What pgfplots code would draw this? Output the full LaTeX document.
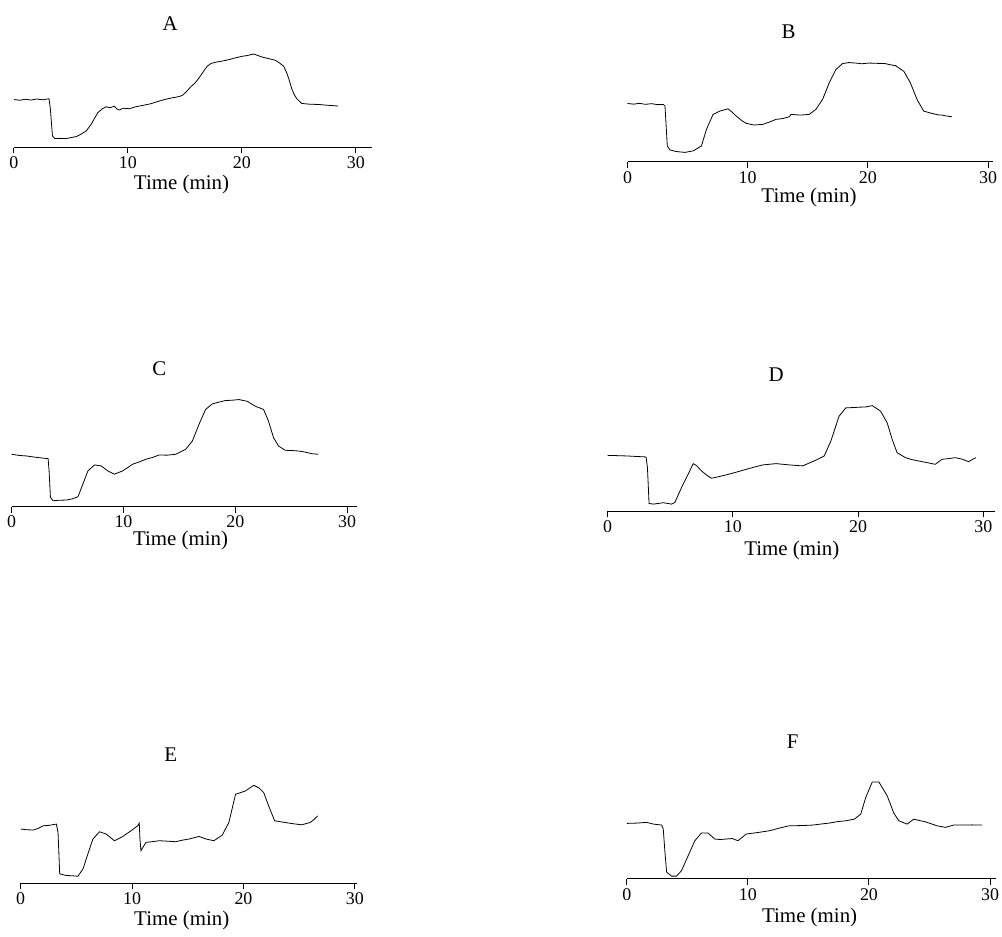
\documentclass[border=0pt]{standalone}
\usepackage{fontspec}
\setmainfont{Liberation Serif}
\usepackage{pgfplots}
\pgfplotsset{compat=1.18}
\pgfplotsset{
  panel/.style={
    axis x line=bottom, axis y line=none,
    x axis line style={-, line width=0.5pt},
    xmin=0, ymin=0, ymax=110,
    xtick={0,10,20,30},
    tick align=outside, major tick length=3pt,
    tick style={black, line width=0.5pt},
    y=0.5pt, clip=false, anchor=origin,
    /pgf/number format/assume math mode=true,
    ticklabel style={font=\fontsize{9}{10}\selectfont, inner sep=1.5pt},
    cycle list={{black, line width=0.75pt, mark=none, line join=round}},
  }
}
\newcommand{\ttl}[3]{\node[font=\fontsize{10.5}{12}\selectfont] at (axis cs:#1,#2) {#3};}
\newcommand{\lbl}[2]{\node[font=\fontsize{10.5}{12}\selectfont] at (axis cs:#1,#2-2) {Time (min)};}
\begin{document}
\begin{tikzpicture}
\path (0,0) rectangle (501pt,468pt);
% A
\begin{axis}[panel, at={(7pt,393.85pt)}, x=5.728pt, xmax=31.4]
\addplot coordinates {(0,48.3)(0.5,47.5)(1.0,48.5)(1.5,47.7)(2.0,48.8)(2.5,48.0)(3.08,49)(3.2,38.3)(3.38,11.7)(3.58,9)(4.1,9.2)(4.6,9)(5.0,10)(5.47,11)(5.9,13.5)(6.34,16.7)(6.78,23.3)(7.1,30)(7.36,35)(7.7,38.5)(8.09,41)(8.4,40)(8.82,41.5)(9.0,39)(9.25,37.7)(9.6,39.5)(10.13,39)(10.7,41)(11.29,42.3)(12.0,44)(12.74,46.7)(13.3,48.5)(13.91,50)(14.4,51)(14.78,52.3)(15.2,57)(15.51,61)(15.9,65)(16.24,70)(16.6,76)(16.96,81.7)(17.3,84.5)(17.69,85.7)(18.3,87)(18.85,88.3)(19.4,90)(20.02,91.7)(20.5,92.5)(21.03,94)(21.4,92.5)(21.76,91)(22.3,89.5)(22.93,87.7)(23.3,85)(23.66,81.7)(23.9,76)(24.09,70)(24.38,59)(24.6,53)(24.82,49)(25.25,44.3)(26.0,43.5)(26.71,43.3)(27.5,42.5)(28.45,41.7)};
\ttl{13.7}{125}{A}
\lbl{14.7}{-34.7}
\end{axis}
% B
\begin{axis}[panel, at={(315.35pt,386.65pt)}, x=6.04pt, xmax=30.4]
\addplot coordinates {(0,58.7)(0.5,58)(1,58.8)(1.5,57.8)(2,58.5)(2.5,57.5)(2.98,57.7)(3.12,56)(3.31,16)(3.53,12)(4,10.5)(4.36,10)(4.8,9.5)(5.2,10.5)(5.46,11)(6.15,16)(6.57,32.7)(7.12,47.7)(7.67,51)(8.36,53.3)(8.7,50)(9.05,46)(9.5,41.5)(9.88,38.7)(10.5,37.0)(11.26,37.7)(11.8,40)(12.36,42.7)(12.9,43.5)(13.47,45.3)(13.6,47.7)(14.4,47.0)(15.12,47.7)(15.67,52.7)(16.23,62.7)(16.78,79.3)(17.33,92.7)(17.88,98.7)(18.4,99.8)(18.98,99.3)(19.5,98.6)(20.09,99.3)(20.8,99.0)(21.47,98.7)(21.9,97.5)(22.30,96.7)(22.99,91)(23.54,79.3)(24.09,62.7)(24.64,51)(25.33,48.7)(25.8,47.3)(26.16,47)(26.6,46.0)(26.99,45.3)};
\ttl{13.4}{130.7}{B}
\lbl{15.1}{-33.3}
\end{axis}
% C
\begin{axis}[panel, at={(5.85pt,213.35pt)}, x=5.62pt, xmax=30.9]
\addplot coordinates {(0,52.7)(0.7,51.5)(1.33,51)(1.8,50.2)(2.3,49.5)(2.8,48.8)(3.26,48.3)(3.35,36)(3.47,9.3)(3.71,6)(4.3,6.5)(4.89,6.7)(5.4,7.8)(5.93,10)(6.37,22.7)(6.82,36)(7.41,42)(8.0,41)(8.6,36)(9.19,32.7)(9.93,36)(10.4,39.5)(10.82,42.7)(11.4,45)(12.01,47.7)(12.6,49.5)(13.19,52)(13.9,51.8)(14.68,52.7)(15.56,57.7)(16.16,66)(16.75,82.7)(17.34,97.7)(17.94,103.3)(18.5,105)(19.12,106.7)(19.7,107)(20.31,107.7)(21.05,106)(21.79,101)(22.53,97.7)(22.97,86)(23.42,69.3)(23.87,61)(24.46,56.7)(25.0,56.5)(25.64,56)(26.2,55)(26.83,53.3)(27.42,52.7)};
\ttl{13.2}{139}{C}
\lbl{15.1}{-32.4}
\end{axis}
% D
\begin{axis}[panel, at={(305.35pt,211pt)}, x=6.295pt, xmax=30.9]
\addplot coordinates {(0,56.3)(0.8,56)(1.54,55.7)(2.3,55.2)(3.07,54.7)(3.18,44)(3.31,8)(3.65,7.3)(4.45,8.7)(5.11,7.3)(5.37,9)(5.9,24)(6.43,37.3)(6.83,48)(7.1,46)(7.49,40.7)(7.9,36.5)(8.29,33.3)(8.9,35)(9.48,36.7)(10.3,39.5)(11.07,42.3)(11.7,44.5)(12.39,46.7)(13.45,48)(14.51,46.7)(15.57,45.7)(16.36,50)(16.8,52.5)(17.29,55.7)(17.82,70.7)(18.48,95.7)(19.01,104)(19.5,104.3)(20.07,104.7)(20.6,105)(21.13,106.3)(21.79,100.7)(22.32,89)(22.72,72.3)(23.11,59)(23.78,54)(24.3,52)(24.83,50.7)(25.5,49)(26.16,47.3)(26.69,52.3)(27.2,53)(27.75,54)(28.3,52.5)(28.81,50)(29.39,54)};
\ttl{13.45}{137.3}{D}
\lbl{14.7}{-37.7}
\end{axis}
% E
\begin{axis}[panel, at={(10.35pt,24pt)}, x=5.6pt, xmax=30.2]
\addplot coordinates {(0,54.7)(0.6,54)(1.13,53.7)(1.6,55.5)(2.02,58)(2.6,58.5)(3.21,59.7)(3.36,51.3)(3.51,9.7)(4.11,8)(4.6,7.8)(5.15,7.3)(5.6,14.7)(6.04,29.7)(6.49,44.7)(7.08,52)(7.68,49.7)(8.42,43)(8.8,45)(9.17,47.3)(9.91,53)(10.51,58)(10.65,60.7)(10.71,44.7)(10.8,33)(11.25,41.3)(11.8,42)(12.44,43)(13.2,42.5)(13.93,42)(14.5,43.5)(15.12,44.7)(16.01,47.3)(16.7,44.5)(17.35,43)(18.1,48.7)(18.69,61.3)(19.29,89.7)(20.18,93)(20.92,98.7)(21.4,96)(21.82,91.3)(22.26,78)(22.8,63)(23.75,61.3)(24.5,60)(25.24,59)(25.98,61.3)(26.3,64)(26.67,68)};
\ttl{13.47}{129.7}{E}
\lbl{14.46}{-35.3}
\end{axis}
% F
\begin{axis}[panel, at={(315pt,26.35pt)}, x=6.085pt, xmax=30.5]
\addplot coordinates {(0,55.7)(0.8,56)(1.64,56.7)(2.2,55)(2.88,54)(3.01,50)(3.15,26.7)(3.29,6.7)(3.7,2.7)(4.11,2.7)(4.52,8.3)(5.07,23.3)(5.62,38.3)(6.16,46)(6.71,46)(7.26,40)(7.7,39.5)(8.22,40)(8.7,40.5)(9.18,38.3)(9.86,45)(10.8,46.5)(11.78,48.3)(12.6,51)(13.42,53.3)(14.4,53.5)(15.34,54)(16.0,55)(16.71,56)(17.4,57.5)(18.08,58.3)(18.8,60)(19.32,65)(19.73,81.7)(20.27,97.3)(20.82,97.3)(21.51,83.3)(22.05,66)(22.47,58.3)(23.15,55)(23.7,60)(24.2,58.5)(24.66,57.3)(25.62,53.3)(26.3,51.7)(26.99,54)(27.67,54)(28.5,54.2)(29.32,54)};
\ttl{13.7}{138.3}{F}
\lbl{15.1}{-36.7}
\end{axis}
\end{tikzpicture}
\end{document}
